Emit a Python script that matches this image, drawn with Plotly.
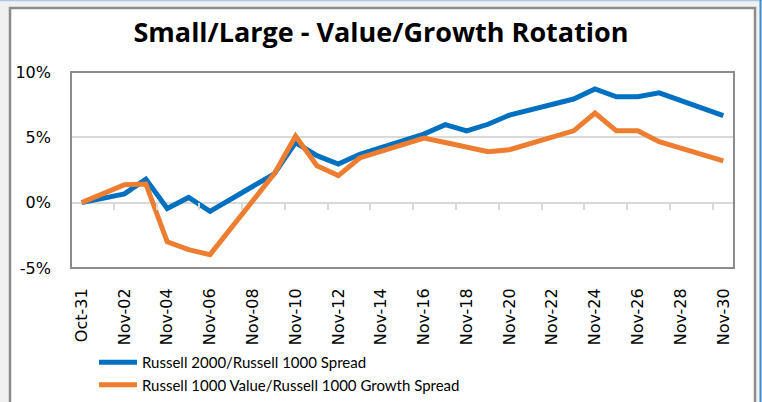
import plotly.graph_objects as go

# daily spread readings (percent), Nov 2020
dates = ["2020-10-31", "2020-11-02", "2020-11-03", "2020-11-04", "2020-11-05",
         "2020-11-06", "2020-11-09", "2020-11-10", "2020-11-11", "2020-11-12",
         "2020-11-13", "2020-11-16", "2020-11-17", "2020-11-18", "2020-11-19",
         "2020-11-20", "2020-11-23", "2020-11-24", "2020-11-25", "2020-11-26",
         "2020-11-27", "2020-11-30"]
small_large = [0, 0.67, 1.8, -0.45, 0.4, -0.66, 2.2, 4.6, 3.6, 2.96, 3.7,
               5.25, 5.97, 5.5, 6.0, 6.7, 7.93, 8.7, 8.1, 8.1, 8.4, 6.66]
value_growth = [0, 1.38, 1.43, -3.0, -3.6, -3.98, 2.2, 5.1, 2.83, 2.07, 3.42,
                4.95, 4.6, 4.25, 3.9, 4.05, 5.5, 6.86, 5.5, 5.5, 4.67, 3.2]
y_ticks = [-5, 0, 5, 10]
y_labels = ["-5%", "0%", "5%", "10%"]
x_range = ["2020-10-30 12:00", "2020-11-30 12:00"]
minor_ticks = ["2020-11-%02d 12:00" % d for d in range(1, 30, 2)]

W, H = 762, 402
L, R, T, B = 71, 734, 72, 268


def px(x):
    return (x - L) / (R - L)


def py(y):
    return (B - y) / (B - T)


fig = go.Figure()
fig.add_trace(go.Scatter(x=dates, y=small_large, mode="lines",
                         name="Russell 2000/Russell 1000 Spread",
                         line=dict(color="#0070C0", width=5)))
fig.add_trace(go.Scatter(x=dates, y=value_growth, mode="lines",
                         name="Russell 1000 Value/Russell 1000 Growth Spread",
                         line=dict(color="#ED7D31", width=5)))
# invisible helper trace so the second x axis (tick marks on the 0% line) is drawn
fig.add_trace(go.Scatter(x=[dates[0]], y=[0], xaxis="x2", mode="lines",
                         showlegend=False, hoverinfo="skip",
                         line=dict(color="rgba(0,0,0,0)")))

shapes = [
    # chart area frame
    dict(type="rect", xref="paper", yref="paper", layer="below",
         x0=px(10), x1=px(755), y0=py(410), y1=py(8),
         fillcolor="white", line=dict(color="#8c8c8c", width=2.5)),
    # window edges
    dict(type="line", xref="paper", yref="paper", layer="below",
         x0=px(0), x1=px(762), y0=py(0.5), y1=py(0.5),
         line=dict(color="#a9c9e4", width=1.5)),
    dict(type="line", xref="paper", yref="paper", layer="below",
         x0=px(760.5), x1=px(760.5), y0=py(402), y1=py(0),
         line=dict(color="#3d8fd1", width=2)),
    # plot area border
    dict(type="rect", xref="paper", yref="paper", layer="above",
         x0=0, x1=1, y0=0, y1=1, line=dict(color="#8c8c8c", width=2)),
]

fig.update_layout(
    width=W, height=H,
    margin=dict(l=L, r=W - R, t=T, b=H - B, autoexpand=False),
    paper_bgcolor="#f0f0f0",
    plot_bgcolor="rgba(0,0,0,0)",
    shapes=shapes,
    title=dict(text="<b>Small/Large - Value/Growth Rotation</b>",
               x=0.5, xanchor="center", y=1 - 33 / H, yanchor="middle",
               font=dict(family="Open Sans", size=27, color="black")),
    xaxis=dict(type="date", range=x_range, tickformat="%b-%d",
               tick0="2020-10-31", dtick=2 * 86400000, tickangle=-90,
               showgrid=False, zeroline=False, showline=False, automargin=False,
               ticks="outside", ticklen=13, tickcolor="rgba(0,0,0,0)",
               tickfont=dict(family="DejaVu Sans", size=16, color="black")),
    xaxis2=dict(type="date", range=x_range, overlaying="x", anchor="free",
                position=py(202), side="bottom", tickmode="array",
                tickvals=minor_ticks, showticklabels=False, ticks="outside",
                ticklen=7, tickwidth=1.5, tickcolor="#d9d9d9", automargin=False,
                showgrid=False, zeroline=False, showline=False),
    yaxis=dict(range=[-5, 10], tickmode="array", tickvals=y_ticks,
               ticktext=y_labels, automargin=False,
               showgrid=True, gridcolor="#d9d9d9", gridwidth=1.5,
               zeroline=False, showline=False, ticks="",
               ticklabelstandoff=19,
               tickfont=dict(family="DejaVu Sans", size=16, color="black")),
    legend=dict(x=px(94), y=py(346), xanchor="left", yanchor="top",
                bgcolor="rgba(0,0,0,0)", itemwidth=38,
                font=dict(family="Lato", size=15, color="black")),
    showlegend=True,
)

# the page's default 8px body margin would shift the figure
fig.write_html("out.html", config={"displayModeBar": False},
               post_script="document.body.style.margin='0';")
